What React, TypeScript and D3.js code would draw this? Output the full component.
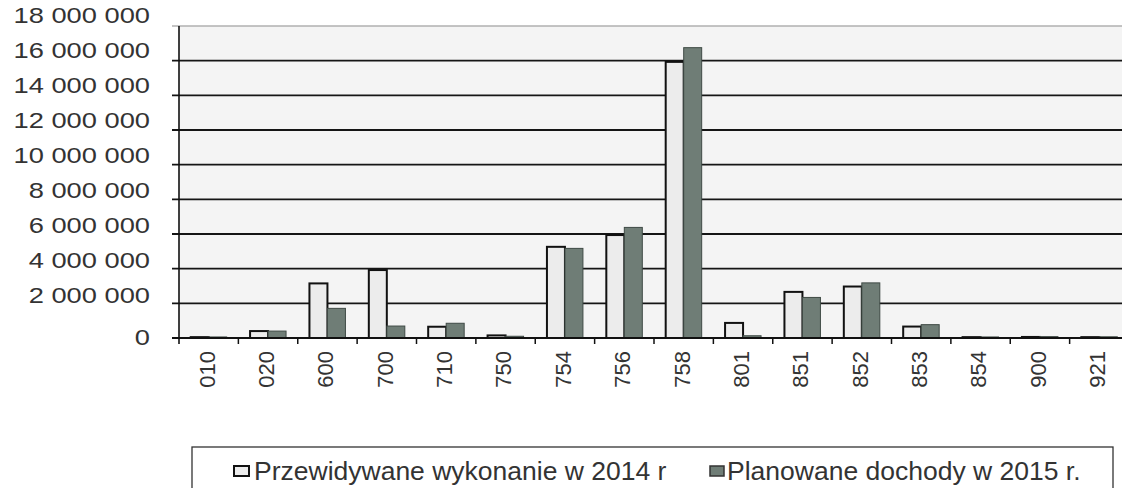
import React from "react";
import * as d3 from "d3";

const categories = ["010", "020", "600", "700", "710", "750", "754", "756", "758", "801", "851", "852", "853", "854", "900", "921"];
const forecast2014 = [50000, 400000, 3150000, 3920000, 650000, 150000, 5260000, 5940000, 15930000, 870000, 2660000, 2970000, 660000, 50000, 60000, 50000];
const planned2015 = [60000, 400000, 1710000, 690000, 850000, 100000, 5170000, 6380000, 16750000, 130000, 2340000, 3180000, 770000, 60000, 80000, 70000];
const seriesNames = ["Przewidywane wykonanie w 2014 r", "Planowane dochody w 2015 r."];
const yTicks = [0, 2000000, 4000000, 6000000, 8000000, 10000000, 12000000, 14000000, 16000000, 18000000];

const W = 1122;
const H = 488;
const left = 179;
const right = 1129;
const top = 26;
const bottom = 338;
const font = "'Liberation Sans', Arial, sans-serif";
const lightFill = "#ececec";
const darkFill = "#6f7d76";

const fmt = (v: number) => d3.format(",")(v).replace(/,/g, " ");

export default function App() {
  const x = d3.scaleBand<string>().domain(categories).range([left, right]).paddingInner(0).paddingOuter(0);
  const x1 = d3.scaleBand<number>().domain([0, 1]).range([0, x.bandwidth()]).paddingInner(0).paddingOuter(0.65);
  const y = d3.scaleLinear().domain([0, 18000000]).range([bottom, top]);
  // labels in the scan sit a little above their gridlines
  const yLabel = d3.scaleLinear().domain([2000000, 18000000]).range([295, 15]);

  const series = [forecast2014, planned2015];

  return (
    <div style={{ position: "absolute", left: 0, top: 0 }}>
      <svg width={W} height={H} style={{ display: "block", background: "#fff" }}>
        <rect x={left} y={top} width={right - left} height={bottom - top} fill="#f4f4f4" />

        {/* gridlines */}
        {yTicks.map((t) => (
          <line
            key={t}
            x1={left - 7}
            x2={W}
            y1={y(t)}
            y2={y(t)}
            stroke={t === 18000000 ? "#b0b0b0" : "#151515"}
            strokeWidth={t === 18000000 ? 1.5 : 1.8}
          />
        ))}

        {/* y labels */}
        {yTicks.map((t) => (
          <g key={"l" + t} transform={`translate(150,${t === 0 ? 337 : yLabel(t)}) scale(1.24,1)`}>
            <text textAnchor="end" dy="0.36em" fontFamily={font} fontSize={22} fill="#333">
              {fmt(t)}
            </text>
          </g>
        ))}

        {/* bars */}
        {categories.map((c, i) => (
          <g key={c} transform={`translate(${x(c)},0)`}>
            {series.map((s, j) => (
              <rect
                key={j}
                x={x1(j)}
                y={y(s[i])}
                width={x1.bandwidth()}
                height={bottom - y(s[i])}
                fill={j === 0 ? lightFill : darkFill}
                stroke={j === 0 ? "#111" : "#3f4a45"}
                strokeWidth={j === 0 ? 2 : 1}
              />
            ))}
          </g>
        ))}

        {/* axes */}
        <line x1={left} x2={left} y1={top} y2={bottom + 6} stroke="#111" strokeWidth={1.6} />
        <line x1={left - 7} x2={right} y1={bottom} y2={bottom} stroke="#111" strokeWidth={1.8} />
        {categories.map((c) => (
          <line key={"t" + c} x1={(x(c) as number) + x.bandwidth()} x2={(x(c) as number) + x.bandwidth()} y1={bottom} y2={bottom + 6} stroke="#111" strokeWidth={1.5} />
        ))}

        {/* x labels */}
        {categories.map((c) => (
          <text
            key={"xl" + c}
            transform={`translate(${(x(c) as number) + x.bandwidth() / 2 - 2},351) rotate(-90)`}
            textAnchor="end"
            dy="0.36em"
            fontFamily={font}
            fontSize={22}
            fill="#333"
          >
            {c}
          </text>
        ))}

        {/* legend */}
        <rect x={192} y={447} width={921} height={60} fill="#fff" stroke="#333" strokeWidth={1.3} />
        <rect x={234} y={466} width={15} height={10} fill={lightFill} stroke="#111" strokeWidth={2} />
        <text x={254} y={480} fontFamily={font} fontSize={26.5} fill="#333">
          {seriesNames[0]}
        </text>
        <rect x={710} y={466} width={14} height={10} fill={darkFill} stroke="#333" strokeWidth={1.5} />
        <text x={727} y={480} fontFamily={font} fontSize={26.5} fill="#333">
          {seriesNames[1]}
        </text>
      </svg>
    </div>
  );
}
